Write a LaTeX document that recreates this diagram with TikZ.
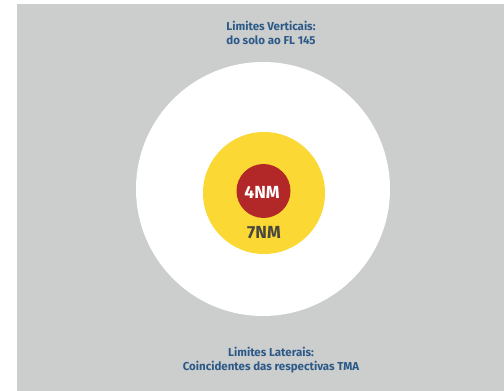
\documentclass[tikz,border=0pt]{standalone}
\usepackage{fontspec}
\setmainfont{Fira Sans}
\definecolor{fundo}{RGB}{204,205,205}
\definecolor{azul}{RGB}{44,90,136}
\definecolor{amarelo}{RGB}{252,216,52}
\definecolor{vermelho}{RGB}{178,40,40}
\definecolor{escuro}{RGB}{72,72,62}
\begin{document}
\begin{tikzpicture}[x=1pt, y=1pt,
        zona/.style={circle, inner sep=0pt},
        limite/.style={text=azul, font=\bfseries\fontsize{11.5}{14}\selectfont, align=center},
        raio/.style={font=\bfseries\fontsize{17.5}{19}\selectfont}
    ]
    
    \useasboundingbox (0,0) rectangle (504,391);
    \fill[fundo] (17,0) rectangle (504,387);
    
    \node[zona, fill=white, minimum size=254pt] (tma) at (263,202) {};
    \node[zona, fill=amarelo, minimum size=122pt] (r7) at (264,198) {};
    \node[zona, fill=vermelho, minimum size=54pt] (r4) at (263.5,200) {};
    
    \node[raio, text=white] (lbl4) at (262,199) {4NM};
    \node[raio, text=escuro] (lbl7) at (264,158) {7NM};
    
    \node[limite] (vert) at (271,358) {Limites Verticais:\\do solo ao FL 145};
    \node[limite] (lat) at (271,31) {Limites Laterais:\\Coincidentes das respectivas TMA};
    
    \end{tikzpicture}
\end{document}
